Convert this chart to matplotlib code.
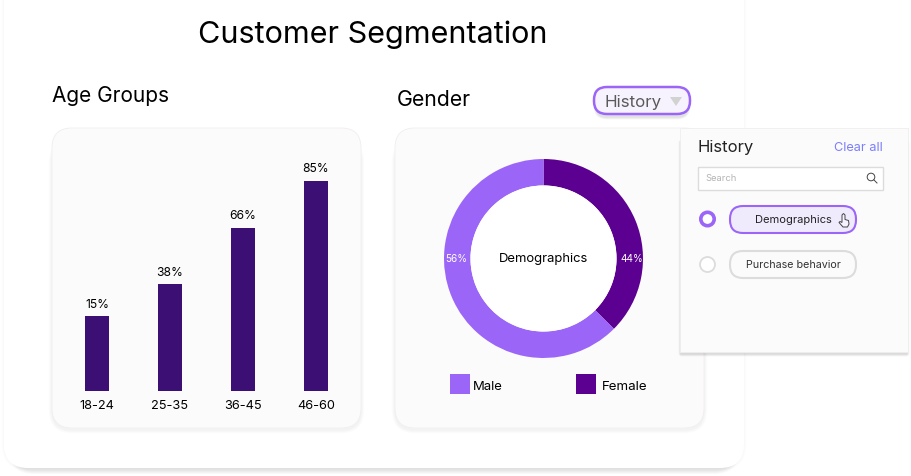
import matplotlib
matplotlib.use("Agg")
import matplotlib.pyplot as plt
from matplotlib.patches import FancyBboxPatch, Circle, Rectangle, Polygon

plt.rcParams['font.family'] = ['Inter', 'DejaVu Sans']

age_groups = ["18-24", "25-35", "36-45", "46-60"]
age_labels = ["15%", "38%", "66%", "85%"]
# bar lengths as drawn, they do not follow the printed labels
age_drawn = [30, 43, 66, 85]

gender_names = ["Female", "Male"]
gender_labels = ["44%", "56%"]
# slice sizes as drawn
gender_drawn = [37.5, 62.5]

history_items = ["Demographics", "Purchase behavior"]

PURPLE = "#3c0f75"
LIGHT = "#9b66f8"
DARK = "#5c0091"
W, H = 912, 476


def box(ax, x0, y0, x1, y1, r, fc, ec="none", lw=1, z=1, alpha=1):
	p = FancyBboxPatch((x0, y0), x1 - x0, y1 - y0, boxstyle="round,pad=0,rounding_size=%s" % r,
					   fc=fc, ec=ec, lw=lw, zorder=z, alpha=alpha)
	ax.add_patch(p)


def shadow(ax, x0, y0, x1, y1, r, dy, steps, alpha, z, grow=0.8):
	# soft shadow made of a few stacked boxes
	for i in range(steps):
		g = (steps - i) * grow
		box(ax, x0 - g, y0 + dy - g, x1 + g, y1 + dy + g, r + g, "#000000", z=z, alpha=alpha)


def label(ax, x, y, s, size, color="black", ha="center", z=10):
	# Inter sits a little high when centred
	ax.text(x, y + 1.5, s, fontsize=size, color=color, ha=ha, va="center", zorder=z)


fig = plt.figure(figsize=(W / 100, H / 100), dpi=100)
fig.patch.set_facecolor("white")

# pixel canvas for the page furniture
bg = fig.add_axes([0, 0, 1, 1], zorder=0)
bg.set_xlim(0, W)
bg.set_ylim(H, 0)
bg.axis("off")

shadow(bg, 4, -40, 744, 468, 24, 0, 3, 0.008, 1)
shadow(bg, 12, 300, 736, 468, 22, 2, 5, 0.02, 1)
box(bg, 4, -40, 744, 468, 24, "white", z=2)

for x0 in (52, 395):
	x1 = x0 + 309
	shadow(bg, x0, 140, x1, 428, 20, 2, 4, 0.01, 3)
	box(bg, x0, 128, x1, 428, 20, "#fcfbfc", ec="#f3eff1", lw=0.7, z=4)

label(bg, 373, 33.5, "Customer Segmentation", 22)
label(bg, 52, 94.5, "Age Groups", 15, ha="left")
label(bg, 397, 98.5, "Gender", 15.3, ha="left")

# history dropdown button
shadow(bg, 596, 92, 688, 114, 11, 3, 3, 0.04, 5)
box(bg, 594, 87, 690, 114, 13, "#f7f3fe", ec=LIGHT, lw=1.8, z=6)
label(bg, 605, 101, "History", 12.2, color="#5a5a5a", ha="left")
bg.add_patch(Polygon([(670, 97), (682, 97), (676, 106)], fc="#d2d2d2", ec="none", zorder=7))

# legend under the donut
bg.add_patch(Rectangle((450, 374), 20, 20, fc=LIGHT, ec="none", zorder=6))
label(bg, 473, 385, "Male", 9.4, ha="left")
bg.add_patch(Rectangle((576, 374), 20, 20, fc=DARK, ec="none", zorder=6))
label(bg, 602, 385, "Female", 9.6, ha="left")

# bar chart
ax = fig.add_axes([52 / W, 1 - 390.5 / H, 309 / W, 262.5 / H], zorder=2)
ax.patch.set_visible(False)
pos = list(range(len(age_groups)))
bars = ax.bar(pos, age_drawn, width=0.329, color=PURPLE)
ax.set_xlim(-0.616, 3.616)
ax.set_ylim(0, 106.3)
ax.set_xticks(pos)
ax.set_xticklabels(age_groups, fontsize=9.2)
ax.tick_params(axis="x", length=0, pad=6.5)
ax.set_yticks([])
for s in ax.spines.values():
	s.set_visible(False)
ax.bar_label(bars, labels=age_labels, padding=3.8, fontsize=8.7)

# donut
ax2 = fig.add_axes([444 / W, 1 - 358 / H, 199 / W, 199 / H], zorder=2)
ax2.pie(gender_drawn, colors=[DARK, LIGHT], startangle=90, counterclock=False, radius=1,
		wedgeprops={"width": 0.266, "linewidth": 0})
ax2.add_patch(Circle((0, 0), 0.734, fc="white", ec="none", zorder=5))
ax2.set_xlim(-1, 1)
ax2.set_ylim(-1, 1)
ax2.text(0, -0.005, "Demographics", fontsize=9.4, ha="center", va="center", zorder=6)
ax2.text(0.89, -0.005, gender_labels[0], fontsize=7.2, color="white", ha="center", va="center", zorder=6)
ax2.text(-0.88, -0.005, gender_labels[1], fontsize=7.2, color="white", ha="center", va="center", zorder=6)

# history panel sits over everything else
top = fig.add_axes([0, 0, 1, 1], zorder=5)
top.set_xlim(0, W)
top.set_ylim(H, 0)
top.axis("off")
shadow(top, 681, 140, 907, 352, 0.5, 2, 4, 0.035, 1, grow=0.6)
top.add_patch(Rectangle((680, 128), 228, 224, fc="#fcfbfc", ec="#f0eded", lw=0.6, zorder=2))
label(top, 698, 146, "History", 12, color="#222222", ha="left")
label(top, 883, 146.5, "Clear all", 9.2, color="#7b7ffb", ha="right")
top.add_patch(Rectangle((698.5, 166.5), 185, 23, fc="white", ec="#dcdcdc", lw=1, zorder=3))
label(top, 705, 177, "Search", 6.8, color="#b5b5b5", ha="left")
top.add_patch(Circle((871, 177), 3.8, fc="none", ec="#444444", lw=0.7, zorder=4))
top.plot([874, 877], [180, 183], color="#444444", lw=0.7, zorder=4)

top.add_patch(Circle((707.5, 219), 6.7, fc="white", ec=LIGHT, lw=2.6, zorder=4))
top.add_patch(Circle((707.5, 264.5), 7.5, fc="white", ec="#dcdcdc", lw=1.3, zorder=4))
box(top, 730, 206, 856, 233, 13, "#f0eafd", ec=LIGHT, lw=1.5, z=4)
box(top, 730, 251, 856, 278, 13, "#fcfbfc", ec="#dcdcdc", lw=1.5, z=4)
label(top, 793, 218.5, history_items[0], 8, color="#222222")
label(top, 793, 263, history_items[1], 7.7, color="#333333")
# pointer over the selected pill
top.add_patch(Polygon([(842, 215), (843.5, 213.5), (845, 215), (845, 219.5), (848.5, 220.5), (849, 224),
					   (847.5, 227), (843, 227), (839, 222.5), (840, 221.5), (842, 222.5)],
					  fc="#f6f2fe", ec="#444444", lw=0.7, zorder=11))

plt.savefig("out.png", dpi=100)
